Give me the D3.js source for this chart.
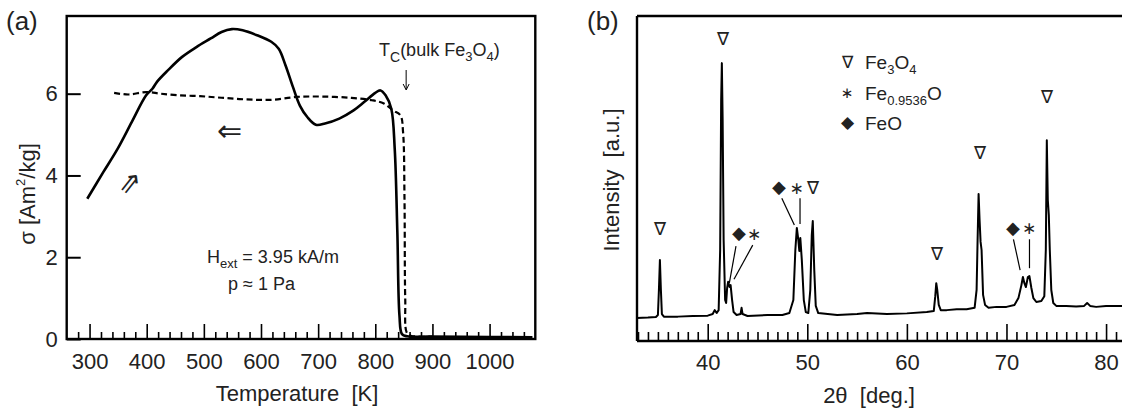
<!DOCTYPE html>
<html>
<head>
<meta charset="utf-8">
<script src="https://cdn.jsdelivr.net/npm/d3@7"></script>
<style>
  body { margin: 0; background: #fff; }
  text { font-family: "Liberation Sans", Arial, sans-serif; fill: #222; }
</style>
</head>
<body>
<div id="chart"></div>
<script>
// ---- panel (a): magnetisation vs temperature ----
var heatT = [296, 324, 349, 374, 399, 410, 418, 437, 462, 487, 512, 531, 549, 568, 593, 618, 631, 643, 656, 668, 681, 696, 712, 737, 762, 781, 800, 809, 818, 828, 834, 838.6, 842.3, 846.7, 856, 894, 1000, 1075];
var heatS = [3.43, 4.08, 4.65, 5.31, 5.96, 6.12, 6.29, 6.57, 6.90, 7.14, 7.35, 7.51, 7.58, 7.55, 7.43, 7.27, 7.10, 6.69, 6.16, 5.71, 5.43, 5.24, 5.27, 5.39, 5.59, 5.80, 6.02, 6.08, 5.96, 5.63, 4.65, 2.61, 0.57, 0.12, 0.065, 0.057, 0.05, 0.04];
var coolT = [343, 368, 399, 424, 455, 493, 531, 574, 618, 662, 706, 756, 794, 815, 831, 844, 848.6, 851.1, 852.4, 855, 862, 900];
var coolS = [6.02, 5.98, 6.04, 6.00, 5.96, 5.94, 5.90, 5.86, 5.85, 5.92, 5.93, 5.90, 5.84, 5.76, 5.59, 5.47, 5.06, 3.43, 0.98, 0.16, 0.08, 0.06];
var tempMajor = [300, 400, 500, 600, 700, 800, 900, 1000];
var sigmaTicks = [0, 2, 4, 6];

// ---- panel (b): XRD pattern ----
var twoTheta = [32.9, 34.0, 34.8, 35.0, 35.1, 35.2, 35.3, 35.4, 35.6, 37.0, 38.5, 40.0, 40.5, 40.7, 40.9, 41.1, 41.25, 41.35, 41.42, 41.5, 41.6, 41.75, 41.85, 41.95, 42.05, 42.2, 42.3, 42.45, 42.6, 42.9, 43.3, 43.4, 43.5, 44.0, 46.0, 47.5, 48.2, 48.6, 48.8, 48.95, 49.1, 49.2, 49.3, 49.45, 49.65, 49.85, 50.1, 50.3, 50.45, 50.55, 50.7, 50.85, 51.1, 53.0, 55.0, 56.0, 58.0, 60.0, 62.0, 62.7, 62.85, 62.95, 63.05, 63.2, 63.4, 64.0, 65.0, 66.0, 66.8, 67.0, 67.1, 67.2, 67.3, 67.4, 67.5, 67.65, 67.85, 68.2, 69.0, 70.0, 70.8, 71.2, 71.5, 71.65, 71.8, 71.95, 72.15, 72.3, 72.5, 72.7, 73.0, 73.5, 73.8, 73.95, 74.05, 74.15, 74.25, 74.35, 74.5, 74.7, 75.0, 76.0, 77.0, 77.8, 78.1, 78.4, 79.0, 80.0, 81.6];
var intensity = [7.1, 7.2, 7.4, 8.0, 15.7, 24.9, 15.7, 8.3, 7.5, 7.5, 7.7, 7.8, 8.3, 9.5, 8.6, 9.5, 28, 74, 85.5, 68, 31, 12.6, 11.7, 16.3, 18.2, 16.6, 17.2, 12.6, 8.9, 8.0, 8.3, 10.2, 8.3, 7.7, 8.0, 8.0, 8.6, 12.6, 28, 34.8, 31.1, 27.7, 31.7, 24.9, 12.6, 8.9, 8.6, 15.7, 32.6, 36.9, 21.8, 10.8, 8.6, 8.0, 8.3, 8.6, 8.3, 8.5, 8.9, 9.2, 13.8, 17.8, 15.7, 11.1, 9.5, 9.5, 9.8, 9.8, 10.2, 15.7, 31.1, 45.2, 37.2, 30.5, 28, 14.2, 11.1, 10.2, 10.5, 10.5, 11.1, 13.2, 17.2, 19.7, 17.8, 16.6, 19.7, 20.0, 16.3, 13.2, 12.0, 12.3, 13.8, 28, 61.8, 43.4, 38.8, 28, 15.7, 11.7, 10.8, 10.8, 10.6, 10.8, 11.7, 10.8, 10.5, 10.8, 10.8];
var thetaMajor = [40, 50, 60, 70, 80];

var svg = d3.select("#chart").append("svg")
  .attr("width", 1122).attr("height", 408);

function fontSize(sel, s) { return sel.style("font-size", s + "px"); }
function tickStyle(g, w) {
  g.select(".domain").remove();
  g.selectAll("line").attr("stroke", "#000").attr("stroke-width", w);
  g.selectAll("text").style("font-size", "22px").attr("fill", null);
}

// ================= panel (a) =================
var xA = d3.scaleLinear().domain([260, 1080]).range([66.7, 535.3]);
var yA = d3.scaleLinear().domain([0, 7.9]).range([339, 16]);
var gA = svg.append("g");

var minorA = d3.range(280, 1080, 20).filter(function(d) { return d % 100 != 0; });
gA.append("g").attr("transform", "translate(0,339)").attr("font-family", null)
  .call(d3.axisBottom(xA).tickValues(minorA).tickSize(-7).tickFormat(""))
  .call(tickStyle, 1.6);
gA.append("g").attr("transform", "translate(0,339)").attr("font-family", null)
  .call(d3.axisBottom(xA).tickValues(tempMajor).tickSize(-15).tickPadding(14).tickFormat(d3.format("d")))
  .call(tickStyle, 1.6);
gA.append("g").attr("transform", "translate(66.7,0)").attr("font-family", null)
  .call(d3.axisLeft(yA).tickValues(sigmaTicks).tickSize(-14).tickPadding(9))
  .call(tickStyle, 2);

var lineA = d3.line().curve(d3.curveCatmullRom.alpha(0.5));
gA.append("path")
  .attr("d", lineA(coolT.map(function(t, i) { return [xA(t), yA(coolS[i])]; })))
  .attr("fill", "none").attr("stroke", "#000").attr("stroke-width", 2.2)
  .attr("stroke-dasharray", "6,3.5");
gA.append("path")
  .attr("d", lineA(heatT.map(function(t, i) { return [xA(t), yA(heatS[i])]; })))
  .attr("fill", "none").attr("stroke", "#000").attr("stroke-width", 2.6);

gA.append("rect").attr("x", 66.7).attr("y", 16).attr("width", 535.3 - 66.7).attr("height", 339 - 16)
  .attr("fill", "none").attr("stroke", "#000").attr("stroke-width", 2.4);

fontSize(gA.append("text").attr("x", 6).attr("y", 21).attr("dominant-baseline", "central").text("(a)"), 26);

var yl = gA.append("text").attr("transform", "translate(27,194) rotate(-90)")
  .attr("text-anchor", "middle").attr("dominant-baseline", "central").style("font-size", "22px");
yl.append("tspan").text("σ  [Am");
yl.append("tspan").attr("dy", -7).style("font-size", "13px").text("2");
yl.append("tspan").attr("dy", 7).text("/kg]");

fontSize(gA.append("text").attr("x", 297).attr("y", 393).attr("text-anchor", "middle")
  .attr("dominant-baseline", "central").attr("xml:space", "preserve").text("Temperature  [K]"), 22);

var tc = gA.append("text").attr("x", 379).attr("y", 56).style("font-size", "18px");
tc.append("tspan").text("T");
tc.append("tspan").attr("dy", 6).style("font-size", "14px").text("C");
tc.append("tspan").attr("dy", -6).text("(bulk Fe");
tc.append("tspan").attr("dy", 5).style("font-size", "13px").text("3");
tc.append("tspan").attr("dy", -5).text("O");
tc.append("tspan").attr("dy", 5).style("font-size", "13px").text("4");
tc.append("tspan").attr("dy", -5).text(")");

// arrow below the Tc label
var tcx = xA(854);
gA.append("line").attr("x1", tcx).attr("x2", tcx).attr("y1", 70).attr("y2", 89)
  .attr("stroke", "#000").attr("stroke-width", 1);
gA.append("path").attr("d", "M" + (tcx - 3) + ",84L" + tcx + ",90L" + (tcx + 3) + ",84")
  .attr("fill", "none").attr("stroke", "#000").attr("stroke-width", 1);

fontSize(gA.append("text").attr("x", xA(545)).attr("y", 130).attr("text-anchor", "middle")
  .attr("dominant-baseline", "central").style("font-family", "DejaVu Sans").text("⇐"), 30);
fontSize(gA.append("text").attr("transform", "translate(" + xA(370) + ",184) rotate(38)")
  .attr("text-anchor", "middle").attr("dominant-baseline", "central").style("font-family", "DejaVu Sans").text("⇑"), 28);

var hx = gA.append("text").attr("x", 207).attr("y", 263).style("font-size", "18px");
hx.append("tspan").text("H");
hx.append("tspan").attr("dy", 5).style("font-size", "13px").text("ext");
hx.append("tspan").attr("dy", -5).text(" = 3.95 kA/m");
fontSize(gA.append("text").attr("x", 228).attr("y", 290).text("p ≈ 1 Pa"), 18);

// ================= panel (b) =================
var xB = d3.scaleLinear().domain([32.9, 81.6]).range([637, 1122]);
var yB = d3.scaleLinear().domain([0, 100]).range([341, 16]);
var gB = svg.append("g");

var minorB = d3.range(33, 82, 1).filter(function(d) { return d % 10 != 0; });
gB.append("g").attr("transform", "translate(0,341)").attr("font-family", null)
  .call(d3.axisBottom(xB).tickValues(minorB).tickSize(-9).tickFormat(""))
  .call(tickStyle, 1.6);
gB.append("g").attr("transform", "translate(0,341)").attr("font-family", null)
  .call(d3.axisBottom(xB).tickValues(thetaMajor).tickSize(-17).tickPadding(13))
  .call(tickStyle, 1.6);

gB.append("path")
  .attr("d", d3.line().x(function(d, i) { return xB(twoTheta[i]); }).y(function(d) { return yB(d); })(intensity))
  .attr("fill", "none").attr("stroke", "#000").attr("stroke-width", 2).attr("stroke-linejoin", "round");

gB.append("path").attr("d", "M637,16V341M637,16H1122M637,341H1122")
  .attr("fill", "none").attr("stroke", "#000").attr("stroke-width", 2.4);

fontSize(gB.append("text").attr("x", 587).attr("y", 21).attr("dominant-baseline", "central").text("(b)"), 26);
fontSize(gB.append("text").attr("transform", "translate(611,180) rotate(-90)")
  .attr("text-anchor", "middle").attr("dominant-baseline", "central").attr("xml:space", "preserve")
  .text("Intensity  [a.u.]"), 22);
fontSize(gB.append("text").attr("x", 869).attr("y", 395).attr("text-anchor", "middle")
  .attr("dominant-baseline", "central").attr("xml:space", "preserve").text("2θ  [deg.]"), 22);

// peak labels (2θ, intensity units)
var peakLabels = [
  ["∇", 35.21, 34.4], ["∇", 41.51, 92.8], ["◆", 43.18, 33.3], ["∗", 44.65, 32.9],
  ["◆", 47.19, 47.3], ["∗", 48.94, 47.0], ["∇", 50.55, 47.0], ["∇", 63.01, 26.8],
  ["∇", 67.36, 57.9], ["◆", 70.70, 34.9], ["∗", 72.28, 34.9], ["∇", 74.06, 75.2]
];
gB.selectAll(".pl").data(peakLabels).enter().append("text")
  .attr("x", function(d) { return xB(d[1]); }).attr("y", function(d) { return yB(d[2]); })
  .attr("text-anchor", "middle").attr("dominant-baseline", "central")
  .style("font-family", function(d) { return d[0] == "∗" ? "DejaVu Sans" : null; })
  .style("font-size", function(d) { return d[0] == "∗" ? "17px" : "18px"; })
  .text(function(d) { return d[0]; });

var leaders = [
  [42.84, 29.2, 42.17, 17.8], [44.52, 29.5, 42.64, 19.0],
  [47.44, 43.9, 48.70, 35.7], [49.27, 43.9, 49.27, 36.0],
  [70.70, 31.3, 71.37, 21.8], [72.31, 31.3, 72.31, 22.4]
];
gB.selectAll(".ld").data(leaders).enter().append("line")
  .attr("x1", function(d) { return xB(d[0]); }).attr("y1", function(d) { return yB(d[1]); })
  .attr("x2", function(d) { return xB(d[2]); }).attr("y2", function(d) { return yB(d[3]); })
  .attr("stroke", "#000").attr("stroke-width", 1.2);

// legend
var legY = [62, 93, 122.7];
var legSym = ["∇", "∗", "◆"];
gB.selectAll(".ls").data(legSym).enter().append("text")
  .attr("x", 847).attr("y", function(d, i) { return legY[i]; })
  .attr("text-anchor", "middle").attr("dominant-baseline", "central")
  .style("font-family", function(d) { return d == "∗" ? "DejaVu Sans" : null; })
  .style("font-size", function(d) { return d == "∗" ? "15px" : "17px"; })
  .text(function(d) { return d; });

var l1 = gB.append("text").attr("x", 865).attr("y", legY[0] + 7).style("font-size", "19px");
l1.append("tspan").text("Fe");
l1.append("tspan").attr("dy", 5).style("font-size", "13px").text("3");
l1.append("tspan").attr("dy", -5).text("O");
l1.append("tspan").attr("dy", 5).style("font-size", "13px").text("4");
var l2 = gB.append("text").attr("x", 865).attr("y", legY[1] + 7).style("font-size", "19px");
l2.append("tspan").text("Fe");
l2.append("tspan").attr("dy", 5).style("font-size", "13px").text("0.9536");
l2.append("tspan").attr("dy", -5).text("O");
gB.append("text").attr("x", 865).attr("y", legY[2] + 7).style("font-size", "19px").text("FeO");
</script>
</body>
</html>
